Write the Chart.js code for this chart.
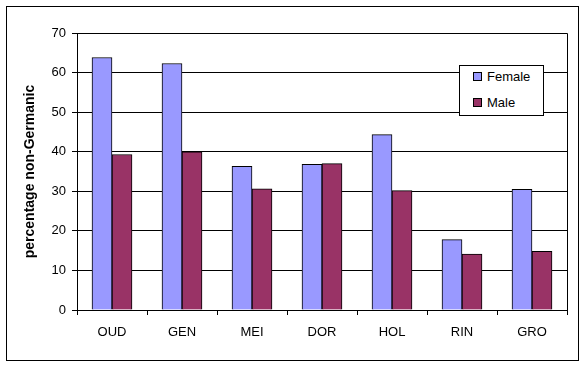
<!DOCTYPE html>
<html>
<head>
<meta charset="utf-8">
<script src="https://cdn.jsdelivr.net/npm/chart.js@4.4.1/dist/chart.umd.min.js"></script>
<style>
    body { margin: 0; background: #fff; }
    #wrap { position: relative; width: 583px; height: 366px; }
    #frame { position: absolute; left: 6px; top: 6px; width: 571px; height: 353px; border: 1px solid #000; }
    #chart { position: absolute; left: 0; top: 0; }
    #legend {
        position: absolute; left: 459px; top: 65px; width: 83px; height: 49px;
        background: #fff; border: 1px solid #000;
        font-family: 'Liberation Sans', Arial, sans-serif; font-size: 13px; color: #000;
    }
    #legend .item { position: absolute; left: 13px; height: 16px; line-height: 16px; }
    #legend .box { display: inline-block; width: 7px; height: 7px; border: 1px solid #000; vertical-align: middle; margin-right: 5px; margin-top: -2px; }
</style>
</head>
<body>
<div id="wrap">
    <div id="frame"></div>
    <canvas id="chart" width="583" height="366"></canvas>
    <div id="legend"></div>
</div>
<script>
    // Данные
    const regions = ['OUD', 'GEN', 'MEI', 'DOR', 'HOL', 'RIN', 'GRO'];
    const femaleValues = [63.8, 62.3, 36.3, 36.8, 44.3, 17.8, 30.5];
    const maleValues = [39.3, 40.0, 30.6, 37.0, 30.2, 14.1, 14.8];
    const yMin = 0;
    const yMax = 70;
    const yStep = 10;
    const yTitle = 'percentage non-Germanic';

    const fontFamily = "'Liberation Sans', Arial, sans-serif";

    // Рамка вокруг области графика (верх и правая сторона)
    const plotFrame = {
        id: 'plotFrame',
        afterDraw(chart) {
            const a = chart.chartArea;
            const ctx = chart.ctx;
            ctx.save();
            ctx.strokeStyle = '#000';
            ctx.lineWidth = 1;
            ctx.beginPath();
            ctx.moveTo(Math.round(a.left) + 0.5, Math.round(a.top) + 0.5);
            ctx.lineTo(Math.round(a.right) + 0.5, Math.round(a.top) + 0.5);
            ctx.lineTo(Math.round(a.right) + 0.5, Math.round(a.bottom) + 0.5);
            ctx.stroke();
            ctx.restore();
        }
    };

    const chart = new Chart(document.getElementById('chart'), {
        type: 'bar',
        data: {
            labels: regions,
            datasets: [{
                label: 'Female',
                data: femaleValues,
                backgroundColor: '#9999FF',
                borderColor: '#000',
                borderWidth: 1,
                barThickness: 20
            }, {
                label: 'Male',
                data: maleValues,
                backgroundColor: '#993366',
                borderColor: '#000',
                borderWidth: 1,
                barThickness: 20
            }]
        },
        options: {
            responsive: false,
            animation: false,
            devicePixelRatio: 1,
            layout: { padding: { left: 0, top: 33, right: 16, bottom: 0 } },
            plugins: {
                legend: { display: false },
                tooltip: { enabled: false }
            },
            scales: {
                x: {
                    afterFit(scale) { scale.height = 56; },
                    grid: {
                        offset: true,
                        drawOnChartArea: false,
                        drawTicks: true,
                        tickLength: 5,
                        color: '#000'
                    },
                    border: { color: '#000' },
                    ticks: {
                        color: '#000',
                        padding: 10,
                        font: { family: fontFamily, size: 13 }
                    }
                },
                y: {
                    min: yMin,
                    max: yMax,
                    afterFit(scale) { scale.width = 77; },
                    grid: {
                        color: '#000',
                        tickLength: 5
                    },
                    border: { color: '#000' },
                    ticks: {
                        stepSize: yStep,
                        color: '#000',
                        padding: 6,
                        font: { family: fontFamily, size: 13 }
                    },
                    title: {
                        display: true,
                        text: yTitle,
                        color: '#000',
                        padding: { top: 22, bottom: 0 },
                        font: { family: fontFamily, size: 14, weight: 'bold' }
                    }
                }
            }
        },
        plugins: [plotFrame]
    });

    // Легенда
    const legend = document.getElementById('legend');
    chart.data.datasets.forEach((ds, i) => {
        const item = document.createElement('div');
        item.className = 'item';
        item.style.top = (3 + i * 26) + 'px';
        item.innerHTML = '<span class="box" style="background:' + ds.backgroundColor + '"></span>' + ds.label;
        legend.appendChild(item);
    });
</script>
</body>
</html>
